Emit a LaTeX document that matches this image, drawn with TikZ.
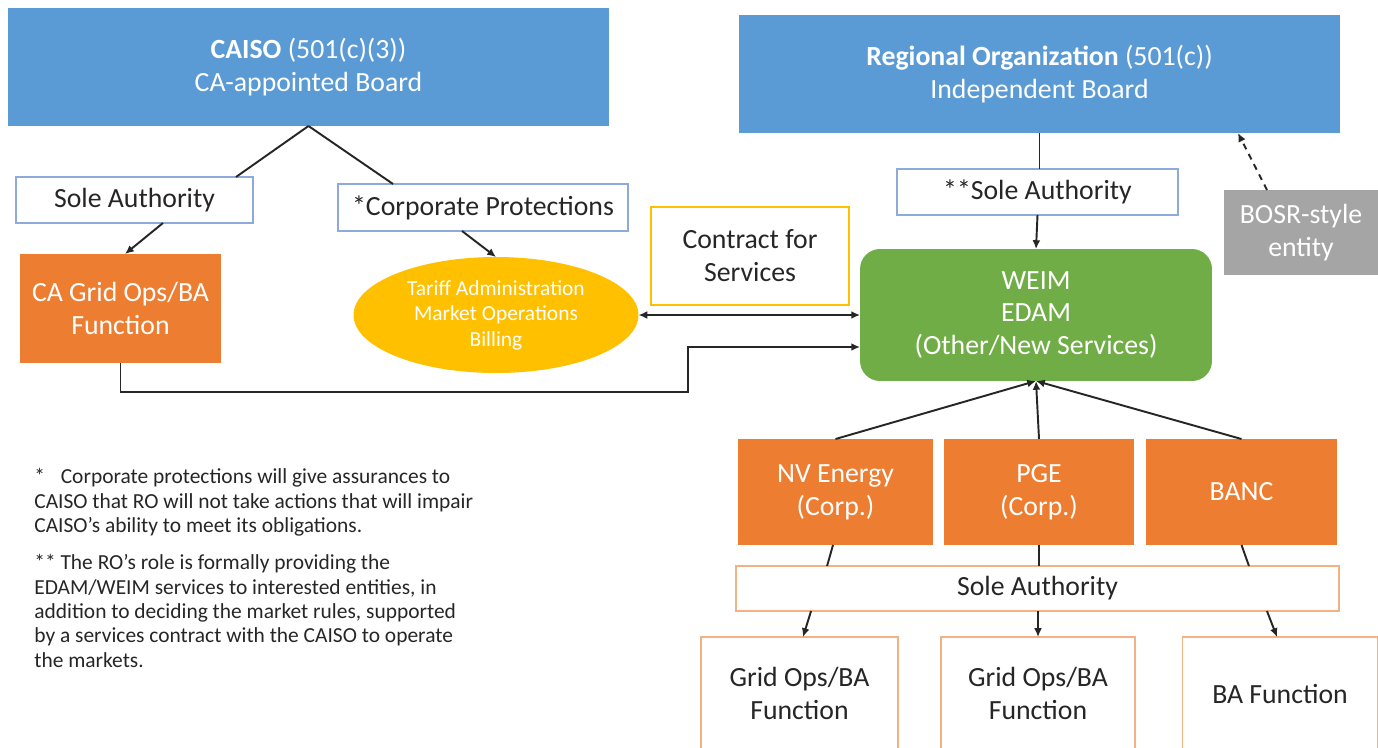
\documentclass[tikz,border=0pt]{standalone}
\usepackage{fontspec}
\setmainfont{Carlito}
\usetikzlibrary{arrows.meta,shapes.geometric}
\definecolor{boardblue}{HTML}{5B9BD5}
\definecolor{opsorange}{HTML}{ED7D31}
\definecolor{servgold}{HTML}{FFC000}
\definecolor{weimgreen}{HTML}{70AD47}
\definecolor{bosrgray}{HTML}{A5A5A5}
\definecolor{edgeblue}{HTML}{8EA9DB}
\definecolor{edgeorange}{HTML}{F4B183}
\definecolor{inkgray}{HTML}{262626}
\begin{document}
\begin{tikzpicture}[x=0.02cm,y=-0.02cm,
	txt/.style={font=\fontsize{15.8}{18.7}\selectfont,align=center,inner sep=0pt,outer sep=0pt},
	board/.style={txt,fill=boardblue,text=white,minimum width=12.02cm,minimum height=2.36cm},
	solebox/.style={txt,draw=edgeblue,line width=1pt,fill=white,text=inkgray,minimum height=0.92cm},
	opsbox/.style={txt,fill=opsorange,text=white,minimum height=2.12cm},
	funcbox/.style={txt,draw=edgeorange,line width=1pt,fill=white,text=inkgray,minimum height=2.26cm},
	note/.style={anchor=north west,inner sep=0pt,align=left,text=inkgray,font=\fontsize{12.2}{13.9}\selectfont},
	arr/.style={-{Latex[length=5pt,width=4.5pt]},line width=1.1pt,draw=inkgray},
	plain/.style={line width=1.1pt,draw=inkgray}]
	\useasboundingbox (0,0) rectangle (1378,747);
	%			Boards
	\node[board] (caiso) at (308.5,67) {\textbf{CAISO} (501(c)(3))\\CA-appointed Board};
	\node[board] (regorg) at (1039.5,74) {\textbf{Regional Organization} (501(c))\\Independent Board};
	%			CAISO side
	\node[solebox,minimum width=4.74cm] (soleL) at (134.5,200) {Sole Authority};
	\node[solebox,minimum width=5.8cm,minimum height=0.94cm] (corp) at (483,207.5) {*Corporate Protections};
	\node[opsbox,minimum width=4.02cm,minimum height=2.18cm] (caops) at (120.5,308.5) {CA Grid Ops/BA\\Function};
	\node[txt,ellipse,fill=servgold,text=white,minimum width=5.7cm,minimum height=2.32cm,font=\fontsize{12.2}{14.5}\selectfont] (tariff) at (496,315) {Tariff Administration\\Market Operations\\Billing};
	\node[txt,draw=servgold,line width=1.6pt,fill=white,text=inkgray,minimum width=3.96cm,minimum height=1.96cm] (contract) at (750,256) {Contract for\\Services};
	%			RO side
	\node[solebox,minimum width=5.62cm] (soleR) at (1037.5,192) {**Sole Authority};
	\node[txt,fill=bosrgray,text=white,minimum width=3.08cm,minimum height=1.7cm] (bosr) at (1301,232.5) {BOSR-style\\entity};
	\node[txt,fill=weimgreen,text=white,rounded corners=0.4cm,minimum width=7.04cm,minimum height=2.64cm] (weim) at (1036,315) {WEIM\\EDAM\\(Other/New Services)};
	\node[opsbox,minimum width=3.9cm] (nv) at (835.5,492) {NV Energy\\(Corp.)};
	\node[opsbox,minimum width=3.8cm] (pge) at (1039,492) {PGE\\(Corp.)};
	\node[opsbox,minimum width=3.82cm] (banc) at (1241.5,492) {BANC};
	\node[txt,draw=edgeorange,line width=1pt,fill=white,text=inkgray,minimum width=12.06cm,minimum height=0.9cm] (soleB) at (1037.5,588.5) {Sole Authority};
	\node[funcbox,minimum width=3.94cm] (grid1) at (799.5,693.5) {Grid Ops/BA\\Function};
	\node[funcbox,minimum width=3.88cm] (grid2) at (1038,693.5) {Grid Ops/BA\\Function};
	\node[funcbox,minimum width=3.9cm] (grid3) at (1280,693.5) {BA Function};
	%			Notes
	\node[note] (note1) at (34,468) {*\hspace{9pt}Corporate protections will give assurances to\\CAISO that RO will not take actions that will impair\\CAISO’s ability to meet its obligations.};
	\node[note] (note2) at (34,554) {** The RO’s role is formally providing the\\EDAM/WEIM services to interested entities, in\\addition to deciding the market rules, supported\\by a services contract with the CAISO to operate\\the markets.};
	%			Connectors
	\draw[plain] (caiso.south) -- ([xshift=2.03cm]soleL.north);
	\draw[plain] (caiso.south) -- ([xshift=-1.8cm]corp.north);
	\draw[arr] ([xshift=0.57cm]soleL.south) -- ([xshift=0.09cm]caops.north);
	\draw[arr] ([xshift=-0.42cm]corp.south) -- (tariff.north);
	\draw[{Latex[length=5pt,width=4.5pt]}-{Latex[length=5pt,width=4.5pt]},line width=1.1pt,draw=inkgray] (tariff.east) -- (weim.west);
	\draw[arr] (caops.south) |- (688,392) |- ([yshift=-0.64cm]weim.west);
	\draw[plain] (regorg.south) -- (regorg.south |- soleR.north);
	\draw[arr] (soleR.south) -- (weim.north);
	\draw[arr,dashed,dash pattern=on 3.5pt off 3pt] ([xshift=-0.68cm]bosr.north) -- ([xshift=-2.04cm]regorg.south east);
	\draw[arr] (nv.north) -- (weim.south);
	\draw[arr] (pge.north) -- (weim.south);
	\draw[arr] (banc.north) -- (weim.south);
	\draw[plain] ([xshift=-0.05cm]nv.south) -- ([xshift=-4.21cm]soleB.north);
	\draw[plain] (pge.south) -- (pge.south |- soleB.north);
	\draw[plain] (banc.south) -- ([xshift=4.23cm]soleB.north);
	\draw[arr] ([xshift=-4.53cm]soleB.south) -- ([xshift=0.07cm]grid1.north);
	\draw[arr] (soleB.south -| grid2.north) -- (grid2.north);
	\draw[arr] ([xshift=4.59cm]soleB.south) -- ([xshift=-0.06cm]grid3.north);
\end{tikzpicture}
\end{document}
